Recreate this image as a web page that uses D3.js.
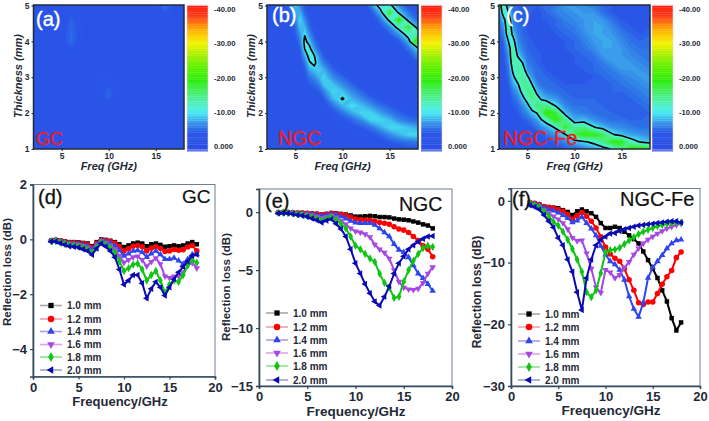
<!DOCTYPE html>
<html><head><meta charset="utf-8">
<script src="https://cdnjs.cloudflare.com/ajax/libs/d3/7.8.5/d3.min.js"></script>
<style>html,body{margin:0;padding:0;background:#fff}svg{display:block}text{font-family:"Liberation Sans",Arial,sans-serif}</style>
</head><body><svg id="c" width="709" height="421"></svg>
<script>
// ---------- heat map data: one list per frequency, thickness 5 mm down to 1 mm
const freqGC=[2,4,6,8,10,12,14,16,18];
const thickCoarse=[5,4.5,4,3.5,3,2.5,2,1.5,1];
const rlGC=[
[-2.5,-2.5,-2.5,-2.5,-2.5,-2.5,-2.5,-2.5,-2.5],
[-2.5,-2.5,-2.5,-2.5,-2.5,-2.5,-2.5,-2.5,-2.5],
[-3.8,-5,-5.2,-3.2,-2.5,-2.5,-2.5,-2.5,-2.5],
[-2.5,-2.5,-2.5,-3,-3.4,-2.8,-2.5,-2.5,-2.5],
[-2.5,-2.5,-2.5,-2.5,-4,-5,-3,-2.5,-2.5],
[-2.5,-2.5,-2.5,-2.5,-2.5,-2.5,-3.4,-2.5,-2.5],
[-2.5,-2.5,-2.5,-2.5,-2.5,-2.5,-2.5,-3,-2.5],
[-5.4,-3.2,-2.5,-2.5,-2.5,-2.5,-2.5,-2.5,-2.5],
[-2.5,-2.5,-2.5,-2.5,-2.5,-2.5,-2.5,-2.5,-2.5]];
const thickFine=[5,4.8,4.6,4.4,4.2,4,3.8,3.6,3.4,3.2,3,2.8,2.6,2.4,2.2,2,1.8,1.6,1.4,1.2,1];
const freqNGC=[2,3,4,4.5,5,5.5,6,6.5,7,7.5,8,9,10,11,12,13,14,15,16,17,18];
const rlNGC=[
[-3,-3,-3,-3,-3,-3,-3,-2.5,-2.5,-2.5,-2.5,-2.5,-2.5,-2.5,-2.5,-2.5,-2.5,-2,-2,-2,-2],
[-3.5,-3,-3,-3,-3,-3,-3,-2.5,-2.5,-2.5,-2.5,-2.5,-2.5,-2.5,-2.5,-2.5,-2.5,-2,-2,-2,-2],
[-4.5,-4,-3.5,-3,-3,-3,-2.5,-2.5,-2.5,-2.5,-2.5,-2.5,-2.5,-2.5,-2.5,-2.5,-2.5,-2.5,-2,-2,-2],
[-6,-5,-4.5,-4,-3.5,-3,-3,-2.5,-2.5,-2.5,-2.5,-2.5,-2.5,-2.5,-2.5,-2.5,-2.5,-2.5,-2.5,-2,-2],
[-9,-7.5,-6,-5,-4.5,-4,-3.5,-3,-3,-2.5,-2.5,-2.5,-2.5,-2.5,-2.5,-2.5,-2.5,-2.5,-2.5,-2.5,-2],
[-6.5,-8,-9.3,-8.5,-7,-5.5,-4.5,-4,-3.5,-3,-3,-2.5,-2.5,-2.5,-2.5,-2.5,-2.5,-2.5,-2.5,-2.5,-2.5],
[-4.5,-5,-6.5,-8,-9.8,-11,-10.2,-7.5,-5.5,-4.5,-4,-3.5,-3,-2.5,-2.5,-2.5,-2.5,-2.5,-2.5,-2.5,-2.5],
[-3.5,-4,-4.5,-5,-6.5,-8.5,-11,-11.5,-9.5,-7.5,-5.5,-4.5,-3.5,-3,-2.5,-2.5,-2.5,-2.5,-2.5,-2.5,-2.5],
[-3,-3,-3.5,-4,-4.5,-5.5,-7,-10.2,-11,-8.5,-6.5,-5,-4,-3.5,-3,-2.5,-2.5,-2.5,-2.5,-2.5,-2.5],
[-2.5,-3,-3,-3,-3.5,-4,-5,-6.5,-8,-9,-8,-6,-4.5,-3.5,-3,-2.5,-2.5,-2.5,-2.5,-2.5,-2.5],
[-2.5,-2.5,-2.5,-2.5,-2.5,-2.5,-3.5,-4.5,-6,-8,-9.3,-8.5,-6,-4.5,-3.5,-3,-2.5,-2.5,-2.5,-2.5,-2.5],
[-2.5,-2.5,-2.5,-2.5,-2.5,-2.5,-3,-3,-4,-5,-6.5,-8.5,-9.5,-8,-5.5,-4,-3.5,-3,-2.5,-2.5,-2.5],
[-2.5,-2.5,-2.5,-2.5,-2.5,-2.5,-2.5,-2.5,-3,-3.5,-5,-6.5,-8.5,-10.3,-8,-5.5,-4,-3.5,-3,-2.5,-2.5],
[-2.5,-2.5,-2.5,-2.5,-2.5,-2.5,-2.5,-2.5,-2.5,-3,-3.5,-5,-6.5,-8,-9.8,-7.5,-5,-4,-3,-2.5,-2.5],
[-2.5,-2.5,-2.5,-2.5,-2.5,-2.5,-2.5,-2.5,-2.5,-2.5,-3,-3.5,-5,-6.5,-8.5,-9.3,-6.5,-4.5,-3.5,-3,-2.5],
[-6,-4,-3,-2.5,-2.5,-2.5,-2.5,-2.5,-2.5,-2.5,-2.5,-3,-3.5,-5,-7,-9.3,-9,-5.5,-4,-3,-2.5],
[-12,-8,-5.5,-4,-3,-2.5,-2.5,-2.5,-2.5,-2.5,-2.5,-2.5,-3,-4,-5.5,-7.5,-9.5,-7.5,-5,-3.5,-3],
[-11,-18,-11,-6.5,-4.5,-3,-2.5,-2.5,-2.5,-2.5,-2.5,-2.5,-2.5,-3,-4.5,-6,-8.5,-9.5,-6.5,-4.5,-3],
[-6.5,-9,-20,-12,-7,-4.5,-3.5,-3,-2.5,-2.5,-2.5,-2.5,-2.5,-3,-3.5,-5,-6.5,-9.5,-8,-5,-3.5],
[-4,-5.5,-8,-18,-12.5,-8,-5.5,-4,-3,-2.5,-2.5,-2.5,-2.5,-2.5,-3,-4,-5.5,-8.5,-9.3,-5.5,-4],
[-3.5,-4,-5,-7.5,-14,-24,-9.5,-6.5,-4.5,-3.5,-3,-2.5,-2.5,-2.5,-2.5,-3.5,-5,-7.5,-9.5,-6,-4]];
const freqNGCFe=[2,2.5,3,3.5,4,4.5,5,5.5,6,6.5,7,8,9,10,11,12,13,14,15,16,17,18];
const rlNGCFe=[
[-8,-6.5,-5.5,-5,-4.5,-4,-4,-3.5,-3.5,-3,-3,-3,-3,-2.5,-2.5,-2.5,-2,-2,-2,-1.5,-1.5],
[-13,-12,-9,-7,-6,-5,-4.5,-4,-4,-3.5,-3.5,-3,-3,-3,-2.5,-2.5,-2.5,-2,-2,-2,-2],
[-8,-10,-13,-14,-13,-10,-8,-7,-6,-5.5,-5,-4.5,-4,-3.5,-3.5,-3,-3,-2.5,-2.5,-2,-2],
[-5.5,-5.5,-6,-7,-9,-11.5,-13.5,-14,-13,-11,-9,-7.5,-6,-5,-4.5,-4,-3.5,-3,-3,-2.5,-2.5],
[-5,-5,-5,-5.5,-6,-6.5,-7.5,-9.5,-13,-14,-13,-9.5,-7.5,-6,-5,-4.5,-4,-3.5,-3,-3,-2.5],
[-4.5,-4.5,-4.5,-5,-5,-5.5,-6,-7,-10,-13,-14,-14,-11.5,-8.5,-6.5,-5.5,-4.5,-4,-3.5,-3,-3],
[-4.5,-4.5,-4.5,-4.5,-4.5,-5,-5,-5.5,-6,-7,-11,-14,-14.5,-12,-8.5,-6.5,-5,-4,-3.5,-3,-3],
[-4.5,-4.5,-4,-4,-4,-4.5,-4.5,-5,-5.5,-6,-7,-10,-14.5,-15,-12.5,-8.5,-6,-4.5,-4,-3.5,-3],
[-4.5,-4,-4,-4,-4,-4,-4.5,-4.5,-5,-5,-5.5,-6.5,-8.5,-13,-16,-10,-7,-5.5,-4,-3.5,-3],
[-5,-4.5,-4.5,-4,-4,-4,-4,-4.5,-4.5,-5,-5,-5.5,-7,-9,-15.5,-15,-9.5,-6.5,-4.5,-3.5,-3],
[-5,-5,-4.5,-4,-4,-3.5,-3.5,-4,-4,-4.5,-5,-5,-6,-8,-15,-20,-11.5,-7.5,-5.5,-4,-3.5],
[-6,-6,-5,-5,-4.5,-4,-4,-4,-4,-4,-4.5,-5,-5.5,-7,-10,-18,-19,-10.5,-7,-5,-4],
[-7,-6.5,-6,-5.5,-5,-4.5,-4.5,-4,-4,-4,-4,-4.5,-5,-5.5,-6.5,-8.5,-15,-18,-9.5,-6.5,-4.5],
[-7,-7,-6.5,-6,-5.5,-5,-5,-4.5,-4.5,-4,-4,-4.5,-4.5,-5,-5.5,-6.5,-8,-14,-17,-8,-5],
[-6.5,-7,-7,-7,-6.5,-6,-5.5,-5,-4.5,-4.5,-4,-4.5,-4.5,-5,-5.5,-6,-8.5,-15,-19,-9.5,-6],
[-6,-7,-7.5,-7.5,-7.5,-7,-6.5,-5.5,-5,-5,-4.5,-4.5,-4.5,-5,-5,-5.5,-7,-10.5,-19,-11,-7],
[-5,-5.5,-7,-7.5,-7.5,-7.5,-7.5,-7,-6,-5.5,-5,-4.5,-4.5,-4.5,-5,-5,-6,-8.5,-17,-15,-8],
[-4.5,-4.5,-5.5,-6.5,-7,-7.5,-7.5,-7,-7,-6,-5.5,-5,-5,-4.5,-4.5,-5,-5.5,-7,-10.5,-19,-10.5],
[-4,-4,-4.5,-5,-6,-6.5,-7,-7,-7,-7,-6,-5.5,-5,-4.5,-4.5,-4.5,-5.5,-6.5,-8.5,-19,-15],
[-4,-4,-4,-4.5,-5,-5.5,-6,-6.5,-7,-7,-6.5,-6,-5.5,-5,-4.5,-4.5,-5,-6,-7.5,-12,-20],
[-4,-4,-4,-4,-4.5,-5,-5.5,-6,-6.5,-7,-7,-6.5,-6,-5.5,-5,-4.5,-5,-5.5,-7,-9.5,-20],
[-4.5,-4.5,-4.5,-4.5,-5,-5,-5.5,-5.5,-6,-6.5,-7,-7,-6.5,-6,-5.5,-5,-5,-5.5,-6.5,-8.5,-18]];
const colorLevels=[0,4,5.5,7,8.5,10,12.5,15.5,19,24,27,30,34,38,41];
const colorValues=['#2a4fe6','#2a56e8','#2e78e8','#3a9cea','#40c8f0','#48ecf0','#4ef0bc','#48ee70','#2cee10','#6cf000','#b0f000','#f4f400','#ffb000','#ff3c18','#ff2010'];
const barTicks=[0,-10,-20,-30,-40];
const barLabels=['0.000','-10.00','-20.00','-30.00','-40.00'];

// ---------- reflection loss curves
const freq=[2,2.5,3,3.5,4,4.5,5,5.5,6,6.5,7,7.5,8,8.5,9,9.5,10,10.5,11,11.5,12,12.5,13,13.5,14,14.5,15,15.5,16,16.5,17,17.5,18];
const thicknessLabels=['1.0 mm','1.2 mm','1.4 mm','1.6 mm','1.8 mm','2.0 mm'];
const seriesColors=['#000000','#ff0000','#2f45ee','#a848e4','#10c414','#0a0ab4'];
const legendLineColors=['#a4aca8','#f0a0b0','#a8a0e8','#e0a0e8','#90e090','#98a4c8'];
const lossGC=[
[-.05,-.02,-.04,-.07,-.1,-.1,-.11,-.13,-.15,-.25,-.1,0,-.02,-.05,-.1,-.18,-.28,-.22,-.15,-.12,-.15,-.25,-.18,-.15,-.2,-.27,-.25,-.22,-.25,-.22,-.15,-.1,-.18],
[-.05,-.03,-.05,-.09,-.12,-.12,-.14,-.16,-.2,-.3,-.14,-.02,-.04,-.08,-.14,-.26,-.42,-.34,-.25,-.22,-.27,-.42,-.32,-.27,-.33,-.44,-.42,-.37,-.4,-.38,-.28,-.22,-.42],
[-.06,-.04,-.07,-.12,-.14,-.15,-.17,-.2,-.25,-.36,-.18,-.04,-.08,-.14,-.24,-.4,-.6,-.52,-.42,-.4,-.47,-.65,-.52,-.42,-.55,-.72,-.72,-.68,-.78,-.9,-.72,-.55,-.55],
[-.06,-.05,-.08,-.14,-.17,-.18,-.2,-.24,-.3,-.42,-.22,-.06,-.12,-.22,-.36,-.6,-.85,-.75,-.65,-.62,-.75,-.98,-.82,-.68,-.9,-1.35,-1.4,-1.35,-1.35,-1.2,-.95,-.85,-1.05],
[-.07,-.06,-.1,-.16,-.2,-.22,-.25,-.3,-.36,-.48,-.28,-.1,-.18,-.3,-.48,-.8,-1.15,-1.05,-.92,-.88,-1.1,-1.5,-1.3,-1.15,-1.5,-1.95,-1.65,-1.5,-1.55,-1.3,-.95,-.75,-.85],
[-.08,-.08,-.14,-.2,-.25,-.27,-.3,-.36,-.42,-.56,-.33,-.15,-.26,-.42,-.65,-1.1,-1.65,-1.5,-1.3,-1.3,-1.6,-2.15,-1.8,-1.55,-1.75,-2.05,-1.75,-1.45,-1.2,-1,-.8,-.6,-.55]];
const lossNGC=[
[-.05,-.03,-.03,-.05,-.06,-.07,-.1,-.12,-.15,-.2,-.15,-.08,-.1,-.15,-.2,-.28,-.38,-.38,-.35,-.32,-.35,-.42,-.42,-.45,-.55,-.62,-.65,-.7,-.8,-.9,-1.05,-1.15,-1.4],
[-.05,-.03,-.03,-.05,-.07,-.08,-.1,-.13,-.16,-.22,-.17,-.1,-.13,-.2,-.28,-.42,-.6,-.65,-.68,-.7,-.78,-.9,-.95,-1.05,-1.25,-1.45,-1.55,-1.75,-2.1,-2.45,-2.9,-3.2,-3.85],
[-.05,-.03,-.04,-.07,-.1,-.12,-.14,-.18,-.24,-.32,-.25,-.15,-.22,-.36,-.55,-.75,-.9,-.95,-.95,-.95,-1.1,-1.4,-1.75,-2.1,-2.75,-3.25,-3.45,-3.9,-4.6,-5.3,-5.7,-6.2,-6.8],
[-.05,-.04,-.06,-.1,-.14,-.17,-.2,-.28,-.38,-.5,-.42,-.3,-.45,-.72,-1.05,-1.4,-1.65,-1.75,-1.9,-2.15,-2.8,-3.2,-3.5,-4,-5,-6,-6.5,-6.65,-6.7,-6.6,-6.1,-5.3,-4.75],
[-.06,-.05,-.08,-.13,-.18,-.22,-.3,-.4,-.55,-.72,-.55,-.4,-.65,-1,-1.4,-2.1,-2.9,-3.2,-3.6,-4,-4.3,-5.3,-6.1,-6.5,-7.4,-7.3,-6,-5,-4.2,-3.6,-3.1,-2.9,-3],
[-.1,-.07,-.1,-.16,-.24,-.3,-.4,-.55,-.7,-.9,-.72,-.6,-1,-1.45,-2.1,-3.2,-4.4,-5.3,-6.2,-7,-7.7,-8.05,-7.3,-6.4,-5.3,-4.4,-3.8,-3.2,-2.85,-2.55,-2.3,-2.1,-2.05]];
const lossNGCFe=[
[-.3,-.4,-.6,-.9,-1,-1.1,-1.2,-1.5,-1.8,-2.3,-1.7,-1.4,-1.7,-2,-2.6,-3.6,-4.4,-4.4,-4.2,-4.4,-5,-5.6,-6.2,-6.9,-8.2,-9.6,-11,-12.5,-14.5,-16.3,-19,-21,-19.7],
[-.3,-.4,-.6,-.9,-1.1,-1.2,-1.4,-1.7,-2.2,-3,-2.4,-1.9,-2.5,-3.3,-4.4,-5.8,-7.5,-8.6,-9.3,-9.8,-11,-12.8,-14.5,-16.5,-16.8,-16.4,-16.4,-15,-13.5,-12.3,-11.3,-9.2,-8.3],
[-.3,-.5,-.7,-1.1,-1.4,-1.6,-1.9,-2.3,-2.8,-3.5,-3.2,-2.6,-3.6,-4.5,-5.6,-7.3,-8.7,-9.8,-10.3,-11.2,-12.8,-15.5,-17.5,-18.8,-16.5,-12.5,-10.8,-9.8,-8.8,-7.7,-6.9,-6.4,-6.3],
[-.4,-.6,-.9,-1.5,-2,-2.5,-3,-3.6,-4.6,-6,-6.5,-6.4,-8.5,-11,-14,-14.9,-11.2,-11.6,-12.5,-12,-10.8,-9.9,-8.7,-7.7,-6.9,-6.3,-5.8,-5.3,-4.9,-4.5,-4.2,-3.9,-3.7],
[-.4,-.7,-1,-1.7,-2.5,-3.4,-4,-5,-6.3,-7.8,-9.5,-11.5,-14.8,-15.6,-14.5,-11.7,-8.3,-8,-7.9,-7.6,-7,-6.4,-5.9,-5.4,-5,-4.7,-4.4,-4.1,-3.9,-3.7,-3.6,-3.5,-3.5],
[-.7,-1,-1.4,-2.3,-3.3,-4.3,-6,-7.2,-9.5,-11.5,-14.8,-17.7,-12.5,-9.5,-7.2,-6.3,-5.8,-5.3,-5.2,-4.9,-4.6,-4.4,-4.2,-4,-3.9,-3.8,-3.7,-3.6,-3.5,-3.4,-3.3,-3.3,-3.5]];

const svg=d3.select('#c');
const INK='#1f2a38';
const FRAME='#34495e';
const color=d3.scaleLinear().domain(colorLevels).range(colorValues).clamp(true);

function label(x,y,t,o){
  o=o||{};
  const el=svg.append('text').attr('x',x).attr('y',y).text(t)
    .attr('font-size',o.size||10).attr('fill',o.fill||'#000')
    .attr('font-weight',o.weight||'normal').attr('font-style',o.style||'normal')
    .attr('text-anchor',o.anchor||'start');
  if(o.rotate) el.attr('transform',`rotate(-90 ${x} ${y})`);
  if(o.thick) el.attr('stroke',o.fill).attr('stroke-width',o.thick);
  return el;
}

function heat(p){
  const nx=p.freq.length, ny=p.thick.length;
  const x=d3.scaleLinear().domain([2,18]).range([p.x0,p.x1]);
  const y=d3.scaleLinear().domain([1,5]).range([149,5.5]);
  const fi=d3.scaleLinear().domain(p.freq.map((_,i)=>i)).range(p.freq);
  const ti=d3.scaleLinear().domain(p.thick.map((_,i)=>i)).range(p.thick);
  const g=svg.append('g');
  const id='clip'+p.id;
  g.append('clipPath').attr('id',id).append('rect')
    .attr('x',p.x0).attr('y',5).attr('width',p.x1-p.x0).attr('height',144);
  const flat=[];
  for(let j=0;j<ny;j++) for(let i=0;i<nx;i++) flat.push(-p.grid[i][j]);
  const tf=d3.geoTransform({point(px,py){
    this.stream.point(x(fi(px-.5)), y(ti(py-.5)));
  }});
  const path=d3.geoPath(tf);
  const body=g.append('g').attr('clip-path',`url(#${id})`);
  body.append('rect').attr('x',p.x0).attr('y',5).attr('width',p.x1-p.x0).attr('height',144).attr('fill',color(1));
  const levels=d3.range(.5,41,.5);
  const cont=d3.contours().size([nx,ny]).smooth(true).thresholds(levels)(flat);
  body.selectAll('path.f').data(cont).join('path').attr('class','f')
    .attr('d',path).attr('fill',d=>color(d.value)).attr('stroke',d=>color(d.value)).attr('stroke-width',.3);
  if(p.outline){
    const line=d3.contours().size([nx,ny]).smooth(true).thresholds([10])(flat);
    body.selectAll('path.o').data(line).join('path').attr('class','o')
      .attr('d',path).attr('fill','none').attr('stroke','#000').attr('stroke-width',1.6);
  }
  g.append('rect').attr('x',p.x0).attr('y',5).attr('width',p.x1-p.x0).attr('height',144)
    .attr('fill','none').attr('stroke','#222b35').attr('stroke-width',1.5);
  const ax=g.append('g').attr('transform','translate(0,149)')
    .call(d3.axisBottom(x).tickValues([5,10,15]).tickSize(2).tickPadding(2).tickFormat(d3.format('d')));
  const ay=g.append('g').attr('transform',`translate(${p.x0},0)`)
    .call(d3.axisLeft(y).tickValues([1,2,3,4,5]).tickSize(2).tickPadding(2).tickFormat(d3.format('d')));
  for(const a of [ax,ay]){
    a.select('.domain').remove();
    a.selectAll('line').attr('stroke','#222');
    a.selectAll('text').attr('font-size',8.5).attr('font-weight','bold').attr('fill',INK)
      .attr('font-family','"Liberation Sans",Arial,sans-serif');
  }
  label((p.x0+p.x1)/2,170,'Freq (GHz)',{size:11,weight:'bold',style:'italic',anchor:'middle',fill:INK});
  label(p.x0-12,76,'Thickness (mm)',{size:11,weight:'bold',style:'italic',anchor:'middle',rotate:true,fill:INK});
  // colour bar
  const yb=d3.scaleLinear().domain([0,-40]).range([146,9]);
  const bar=svg.append('g');
  const steps=d3.range(1.25,-41.25,-.5);
  bar.selectAll('rect').data(steps).join('rect')
    .attr('x',p.bar).attr('width',21)
    .attr('y',d=>yb(d)-.85).attr('height',2)
    .attr('fill',d=>color(Math.max(0,-d)));
  bar.append('rect').attr('x',p.bar).attr('y',5).attr('width',21).attr('height',145)
    .attr('fill','none').attr('stroke','#e4cfe6').attr('stroke-width',.6);
  barTicks.forEach((v,i)=>label(p.bar+27,yb(v)+3,barLabels[i],{size:7.6,weight:'bold',fill:INK}));
  label(p.nameAt[0],p.nameAt[1],p.tag,{size:20,fill:'#fff',thick:.4});
  label(p.redAt,145,p.name,{size:p.redSize,fill:'#ee1c25',thick:.3});
}

const symbolTypes=[d3.symbolSquare,d3.symbolCircle,d3.symbolTriangle,d3.symbolTriangle,d3.symbolDiamond,d3.symbolTriangle];
const symbolTurn=[0,0,0,180,0,-90];
const symbolSize=[20,24,18,18,20,18];

function curves(p){
  const x=d3.scaleLinear().domain([0,20]).range([p.x0,p.x1]);
  const y=d3.scaleLinear().domain(p.domain).range([p.bottom,p.top]);
  const g=svg.append('g');
  const by=p.bottom;
  g.append('rect').attr('x',p.x0).attr('y',p.top).attr('width',p.x1-p.x0).attr('height',by-p.top)
    .attr('fill','none').attr('stroke','#6d7f92').attr('stroke-width',1);
  const ax=g.append('g').attr('transform',`translate(0,${by})`)
    .call(d3.axisBottom(x).tickValues([0,5,10,15,20]).tickSize(3).tickPadding(3).tickFormat(d3.format('d')));
  const ay=g.append('g').attr('transform',`translate(${p.x0},0)`)
    .call(d3.axisLeft(y).tickValues(p.ticks).tickSize(3).tickPadding(3).tickFormat(d3.format('d')));
  for(const a of [ax,ay]){
    a.select('.domain').attr('stroke',FRAME).attr('stroke-width',1.6);
    a.selectAll('line').attr('stroke',FRAME).attr('stroke-width',1.2);
    a.selectAll('text').attr('font-size',13).attr('font-weight','bold').attr('fill',INK)
      .attr('font-family','"Liberation Sans",Arial,sans-serif');
  }
  const line=d3.line().x((d,i)=>x(freq[i])).y(d=>y(d));
  p.data.forEach((vals,k)=>{
    const s=g.append('g');
    s.append('path').attr('d',line(vals)).attr('fill','none').attr('stroke',seriesColors[k]).attr('stroke-width',2);
    s.selectAll('path.m').data(vals).join('path').attr('class','m')
      .attr('d',d3.symbol().type(symbolTypes[k]).size(symbolSize[k]))
      .attr('fill',seriesColors[k])
      .attr('transform',(d,i)=>`translate(${x(freq[i])},${y(d)}) rotate(${symbolTurn[k]})`);
  });
  // legend
  thicknessLabels.forEach((t,k)=>{
    const ly=p.legY[k];
    g.append('line').attr('x1',p.legX).attr('x2',p.legX+22).attr('y1',ly).attr('y2',ly)
      .attr('stroke',legendLineColors[k]).attr('stroke-width',1.6);
    g.append('path').attr('d',d3.symbol().type(symbolTypes[k]).size(symbolSize[k]*1.4)())
      .attr('fill',seriesColors[k]).attr('transform',`translate(${p.legX+11},${ly}) rotate(${symbolTurn[k]})`);
    label(p.legX+27,ly+3.5,t,{size:10,weight:'bold',fill:INK});
  });
  label(p.xTitle[0],p.xTitle[1],'Frequency/GHz',{size:p.xTitle[2],weight:'bold',anchor:'middle',fill:INK});
  label(p.yTitle[0],p.yTitle[1],'Reflection loss (dB)',{size:p.yTitle[2],weight:'bold',anchor:'middle',rotate:true,fill:INK});
  label(p.tagAt[0],p.tagAt[1],p.tag,{size:20,fill:'#111',thick:.3});
  label(p.nameAt[0],p.nameAt[1],p.name,{size:p.nameSize,fill:'#111',thick:.2});
}

heat({id:'a',x0:33.5,x1:184,bar:187,freq:freqGC,thick:thickCoarse,grid:rlGC,outline:false,tag:'(a)',nameAt:[36,26],name:'GC',redAt:36,redSize:18});
heat({id:'b',x0:267,x1:418,bar:421,freq:freqNGC,thick:thickFine,grid:rlNGC,outline:true,tag:'(b)',nameAt:[272,22],name:'NGC',redAt:278,redSize:19.5});
heat({id:'c',x0:499,x1:650,bar:652,freq:freqNGCFe,thick:thickFine,grid:rlNGCFe,outline:true,tag:'(c)',nameAt:[506,22],name:'NGC-Fe',redAt:503,redSize:20});

curves({x0:33,x1:215,top:184.5,bottom:376.5,domain:[-5,2],ticks:[2,0,-2,-4],data:lossGC,legX:40,legY:[305.5,319,331.5,344.5,357,370],xTitle:[120,406,13],yTitle:[10.5,272,11.5],tag:'(d)',tagAt:[38,204],name:'GC',nameAt:[182,203],nameSize:19});
curves({x0:259,x1:452,top:189,bottom:386,domain:[-15,2],ticks:[0,-5,-10,-15],data:lossNGC,legX:266,legY:[313,327,340,353,366,380],xTitle:[356,416,13.5],yTitle:[229.5,287,11.5],tag:'(e)',tagAt:[265,208],name:'NGC',nameAt:[399,211],nameSize:19.5});
curves({x0:511,x1:700,top:188.5,bottom:386,domain:[-30,2],ticks:[0,-10,-20,-30],data:lossNGCFe,legX:518,legY:[314,327,341,354,367,380],xTitle:[611,415,13.5],yTitle:[480.5,292,12],tag:'(f)',tagAt:[512,206],name:'NGC-Fe',nameAt:[620,206],nameSize:20});
</script></body></html>
